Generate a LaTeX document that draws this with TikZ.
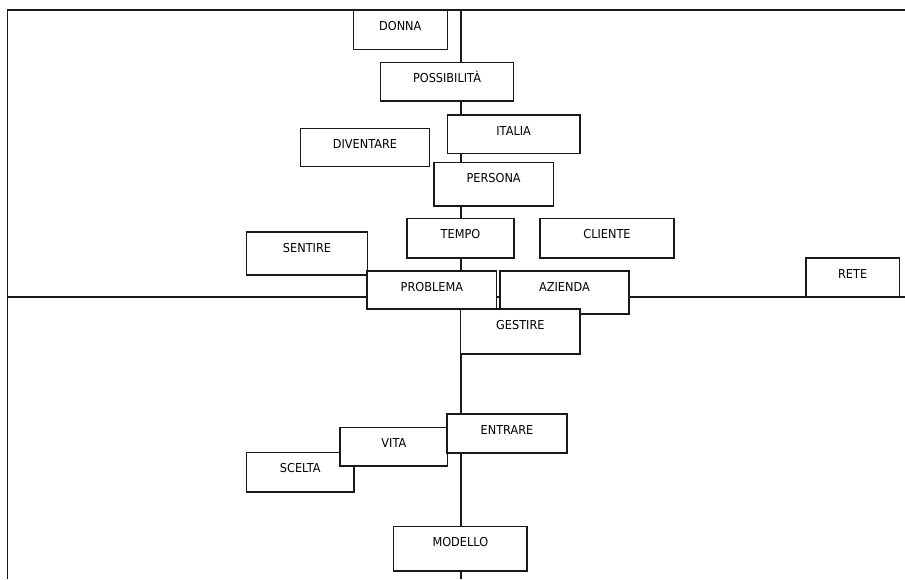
\documentclass[tikz,border=0pt]{standalone}
\usepackage{fontspec}
\setmainfont{DejaVu Sans}[FakeStretch=0.92]
\begin{document}
\begin{tikzpicture}[x=1pt,y=-1pt,
  axis/.style={line width=1.6pt, draw=black!90},
  word/.style={draw=black!90, fill=white, line width=1.5pt, inner sep=0pt, outer sep=0pt,
    anchor=north west, align=center, text height=20pt,
    font=\fontsize{12.3}{14}\selectfont}]
  \useasboundingbox (0,0) rectangle (905,579);

  % frame and axes
  \coordinate (tl) at (7.3,10);
  \coordinate (tr) at (905,10);
  \coordinate (bl) at (7.3,579);
  \coordinate (ml) at (7.3,296.7);
  \coordinate (mr) at (905,296.7);
  \coordinate (vt) at (460.7,10);
  \coordinate (vb) at (460.7,579);
  \draw[axis] (tr) -- (tl) -- (bl);
  \draw[axis] (ml) -- (mr);
  \draw[axis] (vt) -- (vb);

  % word boxes
  \node[word, minimum width=94pt,    text depth=19.3pt] (donna)       at (353.3,10)    {DONNA};
  \node[word, minimum width=132.6pt, text depth=18.7pt] (possibilita) at (380.7,62.3)  {POSSIBILITÀ};
  \node[word, minimum width=132.7pt, text depth=18.3pt] (italia)      at (447.3,115)   {ITALIA};
  \node[word, minimum width=128.6pt, text depth=18.4pt] (diventare)   at (300.7,128.3) {DIVENTARE};
  \node[word, minimum width=119.3pt, text depth=23.7pt] (persona)     at (434,162.3)   {PERSONA};
  \node[word, minimum width=107pt,   text depth=19.3pt] (tempo)       at (407,218.7)   {TEMPO};
  \node[word, minimum width=134pt,   text depth=19.3pt] (cliente)     at (540,218.7)   {CLIENTE};
  \node[word, minimum width=120.6pt, text depth=23pt]   (sentire)     at (246.7,232)   {SENTIRE};
  \node[word, minimum width=129.7pt, text depth=18pt]   (problema)    at (367,271)     {PROBLEMA};
  \node[word, minimum width=129pt,   text depth=23pt]   (azienda)     at (500,271)     {AZIENDA};
  \node[word, minimum width=119.3pt, text depth=25pt]   (gestire)     at (460.7,309)   {GESTIRE};
  \node[word, minimum width=93.3pt,  text depth=18.7pt] (rete)        at (806,258)     {RETE};
  \node[word, minimum width=107.3pt, text depth=19.3pt] (scelta)      at (246.7,452.7) {SCELTA};
  \node[word, minimum width=107.7pt, text depth=18.3pt] (vita)        at (340,427.7)   {VITA};
  \node[word, minimum width=120pt,   text depth=19pt]   (entrare)     at (447,414)     {ENTRARE};
  \node[word, minimum width=133.3pt, text depth=24.3pt] (modello)     at (393.7,526.7) {MODELLO};
\end{tikzpicture}
\end{document}
